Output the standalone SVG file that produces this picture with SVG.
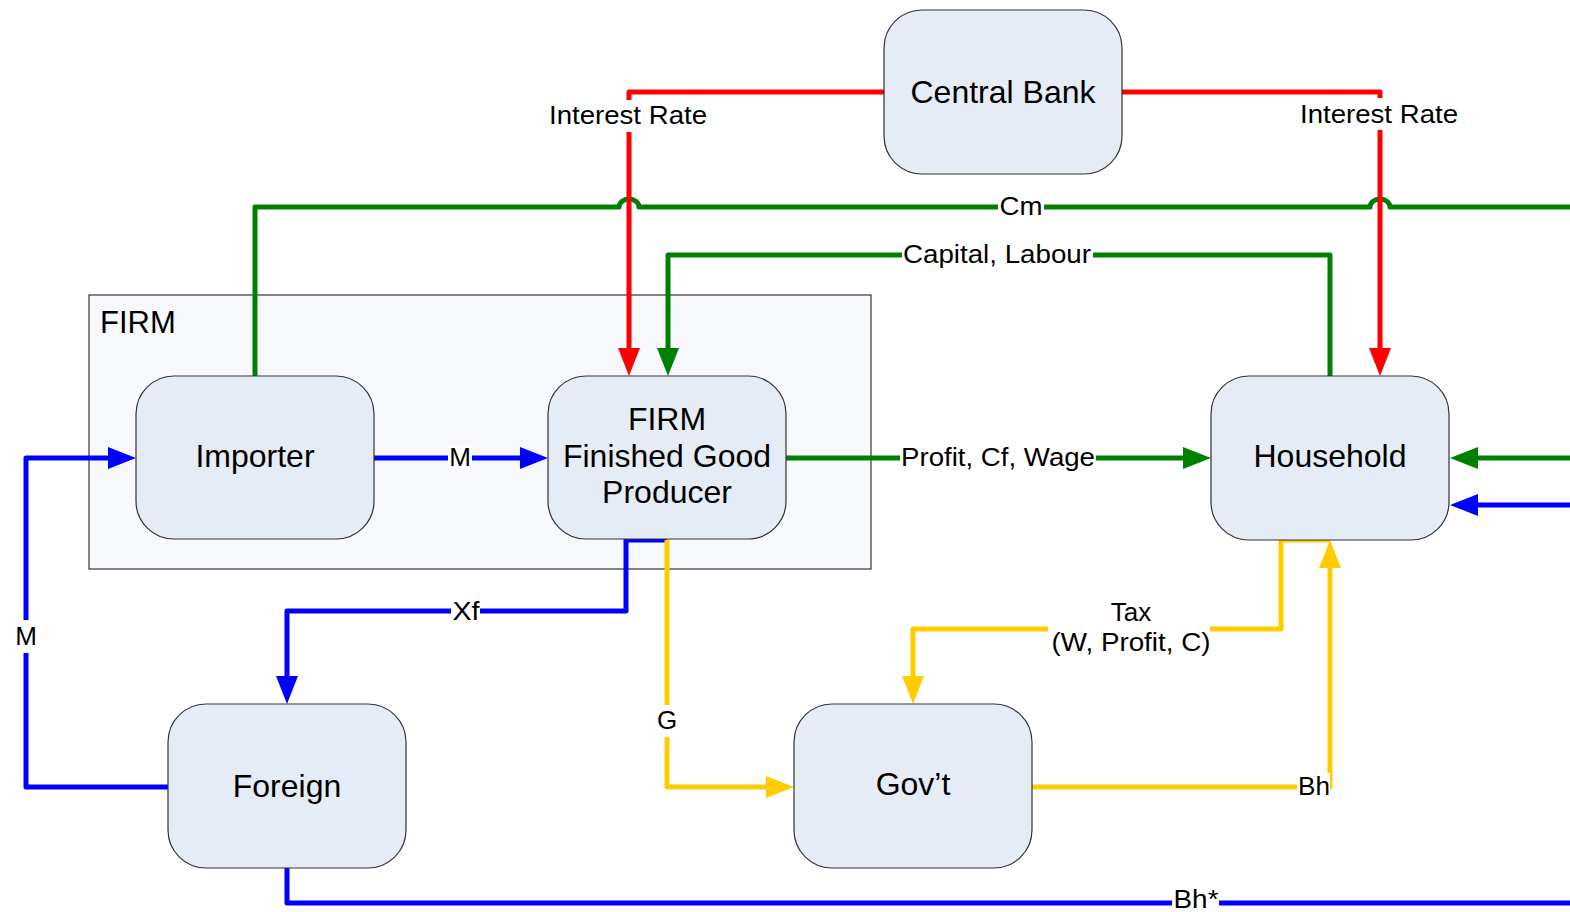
<svg xmlns="http://www.w3.org/2000/svg" width="1570" height="912" viewBox="0 0 1570 912">
  <defs>
    <style>
      .node rect { fill: #E6ECF6; stroke: #333333; stroke-width: 1.2; }
      .node text { font-family: "Liberation Sans", Arial, sans-serif; font-size: 32px; fill: #000; text-anchor: middle; }
      .group-box { fill: #F6F8FC; stroke: #333333; stroke-width: 1.2; }
      .group-label { font-family: "Liberation Sans", Arial, sans-serif; font-size: 31px; fill: #000; }
      .wire { fill: none; stroke-width: 5; stroke-linejoin: round; }
      .red { stroke: #FF0000; }
      .green { stroke: #008000; }
      .blue { stroke: #0000FF; }
      .yellow { stroke: #FFCC00; }
      .lbl-bg { fill: #FFFFFF; }
      .lbl { font-family: "Liberation Sans", Arial, sans-serif; font-size: 26px; fill: #000; text-anchor: middle; }
    </style>
    <marker id="ah-red" markerUnits="userSpaceOnUse" markerWidth="28" markerHeight="22" refX="18" refY="11" orient="auto">
      <path d="M0,0 L28,11 L0,22 Z" fill="#FF0000"/>
    </marker>
    <marker id="ah-green" markerUnits="userSpaceOnUse" markerWidth="28" markerHeight="22" refX="18" refY="11" orient="auto">
      <path d="M0,0 L28,11 L0,22 Z" fill="#008000"/>
    </marker>
    <marker id="ah-blue" markerUnits="userSpaceOnUse" markerWidth="28" markerHeight="22" refX="18" refY="11" orient="auto">
      <path d="M0,0 L28,11 L0,22 Z" fill="#0000FF"/>
    </marker>
    <marker id="ah-yellow" markerUnits="userSpaceOnUse" markerWidth="28" markerHeight="22" refX="18" refY="11" orient="auto">
      <path d="M0,0 L28,11 L0,22 Z" fill="#FFCC00"/>
    </marker>
  </defs>

  <rect x="0" y="0" width="1570" height="912" fill="#FFFFFF"/>

  <!-- firm sector container -->
  <g id="firm-group">
    <rect class="group-box" x="89" y="295" width="782" height="274"/>
    <text class="group-label" x="100" y="333">FIRM</text>
  </g>

  <!-- flows between sectors -->
  <g id="connectors">
    <!-- Cm: importer to the right edge, hopping over the interest-rate lines -->
    <path class="wire green" d="M255,376 V207 H619 A10,8 0 0 1 639,207 H1370 A10,8 0 0 1 1390,207 H1570"/>
    <!-- interest rate -->
    <path class="wire red" d="M884,92 H629 V366" marker-end="url(#ah-red)"/>
    <path class="wire red" d="M1122,92 H1380 V366" marker-end="url(#ah-red)"/>
    <!-- capital, labour -->
    <path class="wire green" d="M1330,376 V255 H668 V366" marker-end="url(#ah-green)"/>
    <!-- imports to producer -->
    <path class="wire blue" d="M374,458 H538" marker-end="url(#ah-blue)"/>
    <!-- profit, Cf, wage -->
    <path class="wire green" d="M786,458 H1201" marker-end="url(#ah-green)"/>
    <!-- inflows into household from the right -->
    <path class="wire green" d="M1570,458 H1460" marker-end="url(#ah-green)"/>
    <path class="wire blue" d="M1570,505 H1460" marker-end="url(#ah-blue)"/>
    <!-- exports -->
    <path class="wire blue" d="M667,540 H626 V611 H287 V694" marker-end="url(#ah-blue)"/>
    <!-- government spending -->
    <path class="wire yellow" d="M667,540 V787 H784" marker-end="url(#ah-yellow)"/>
    <!-- tax -->
    <path class="wire yellow" d="M1330,540 H1281 V629 H913 V694" marker-end="url(#ah-yellow)"/>
    <!-- government bonds -->
    <path class="wire yellow" d="M1032,787 H1330 V550" marker-end="url(#ah-yellow)"/>
    <!-- imports from foreign -->
    <path class="wire blue" d="M168,787 H26 V458 H126" marker-end="url(#ah-blue)"/>
    <!-- foreign bonds -->
    <path class="wire blue" d="M287,868 V903 H1570"/>

    <!-- labels -->
    <rect class="lbl-bg" x="546" y="100" width="164" height="32"/>
    <text class="lbl" x="628" y="124" textLength="158" lengthAdjust="spacingAndGlyphs">Interest Rate</text>
    <rect class="lbl-bg" x="1297" y="98" width="164" height="32"/>
    <text class="lbl" x="1379" y="123" textLength="158" lengthAdjust="spacingAndGlyphs">Interest Rate</text>
    <rect class="lbl-bg" x="998" y="194" width="46" height="26"/>
    <text class="lbl" x="1021" y="215" textLength="43" lengthAdjust="spacingAndGlyphs">Cm</text>
    <rect class="lbl-bg" x="902" y="242" width="191" height="26"/>
    <text class="lbl" x="997" y="263" textLength="188" lengthAdjust="spacingAndGlyphs">Capital, Labour</text>
    <rect class="lbl-bg" x="448" y="445" width="24" height="26"/>
    <text class="lbl" x="460" y="466">M</text>
    <rect class="lbl-bg" x="900" y="445" width="196" height="26"/>
    <text class="lbl" x="998" y="466" textLength="194" lengthAdjust="spacingAndGlyphs">Profit, Cf, Wage</text>
    <rect class="lbl-bg" x="451" y="598" width="29" height="26"/>
    <text class="lbl" x="466" y="620" textLength="27" lengthAdjust="spacingAndGlyphs">Xf</text>
    <rect class="lbl-bg" x="655" y="705" width="24" height="32"/>
    <text class="lbl" x="667" y="729">G</text>
    <rect class="lbl-bg" x="1048" y="598" width="162" height="60"/>
    <text class="lbl" x="1131" y="621">Tax</text>
    <text class="lbl" x="1131" y="651" textLength="159" lengthAdjust="spacingAndGlyphs">(W, Profit, C)</text>
    <rect class="lbl-bg" x="1297" y="773" width="33" height="28"/>
    <text class="lbl" x="1314" y="795" textLength="32" lengthAdjust="spacingAndGlyphs">Bh</text>
    <rect class="lbl-bg" x="14" y="620" width="24" height="33"/>
    <text class="lbl" x="26" y="645">M</text>
    <rect class="lbl-bg" x="1172" y="888" width="47" height="24"/>
    <text class="lbl" x="1196" y="908" font-size="25" textLength="45" lengthAdjust="spacingAndGlyphs">Bh*</text>
  </g>

  <g id="central-bank" class="node">
    <rect x="884" y="10" width="238" height="164" rx="38" ry="38"/>
    <text x="1003" y="103">Central Bank</text>
  </g>

  <g id="importer" class="node">
    <rect x="136" y="376" width="238" height="163" rx="38" ry="38"/>
    <text x="255" y="467">Importer</text>
  </g>

  <g id="finished-good-producer" class="node">
    <rect x="548" y="376" width="238" height="163" rx="38" ry="38"/>
    <text x="667" y="430">FIRM</text>
    <text x="667" y="467">Finished Good</text>
    <text x="667" y="503">Producer</text>
  </g>

  <g id="household" class="node">
    <rect x="1211" y="376" width="238" height="164" rx="38" ry="38"/>
    <text x="1330" y="467">Household</text>
  </g>

  <g id="foreign" class="node">
    <rect x="168" y="704" width="238" height="164" rx="38" ry="38"/>
    <text x="287" y="797">Foreign</text>
  </g>

  <g id="government" class="node">
    <rect x="794" y="704" width="238" height="164" rx="38" ry="38"/>
    <text x="913" y="795">Gov’t</text>
  </g>
</svg>
